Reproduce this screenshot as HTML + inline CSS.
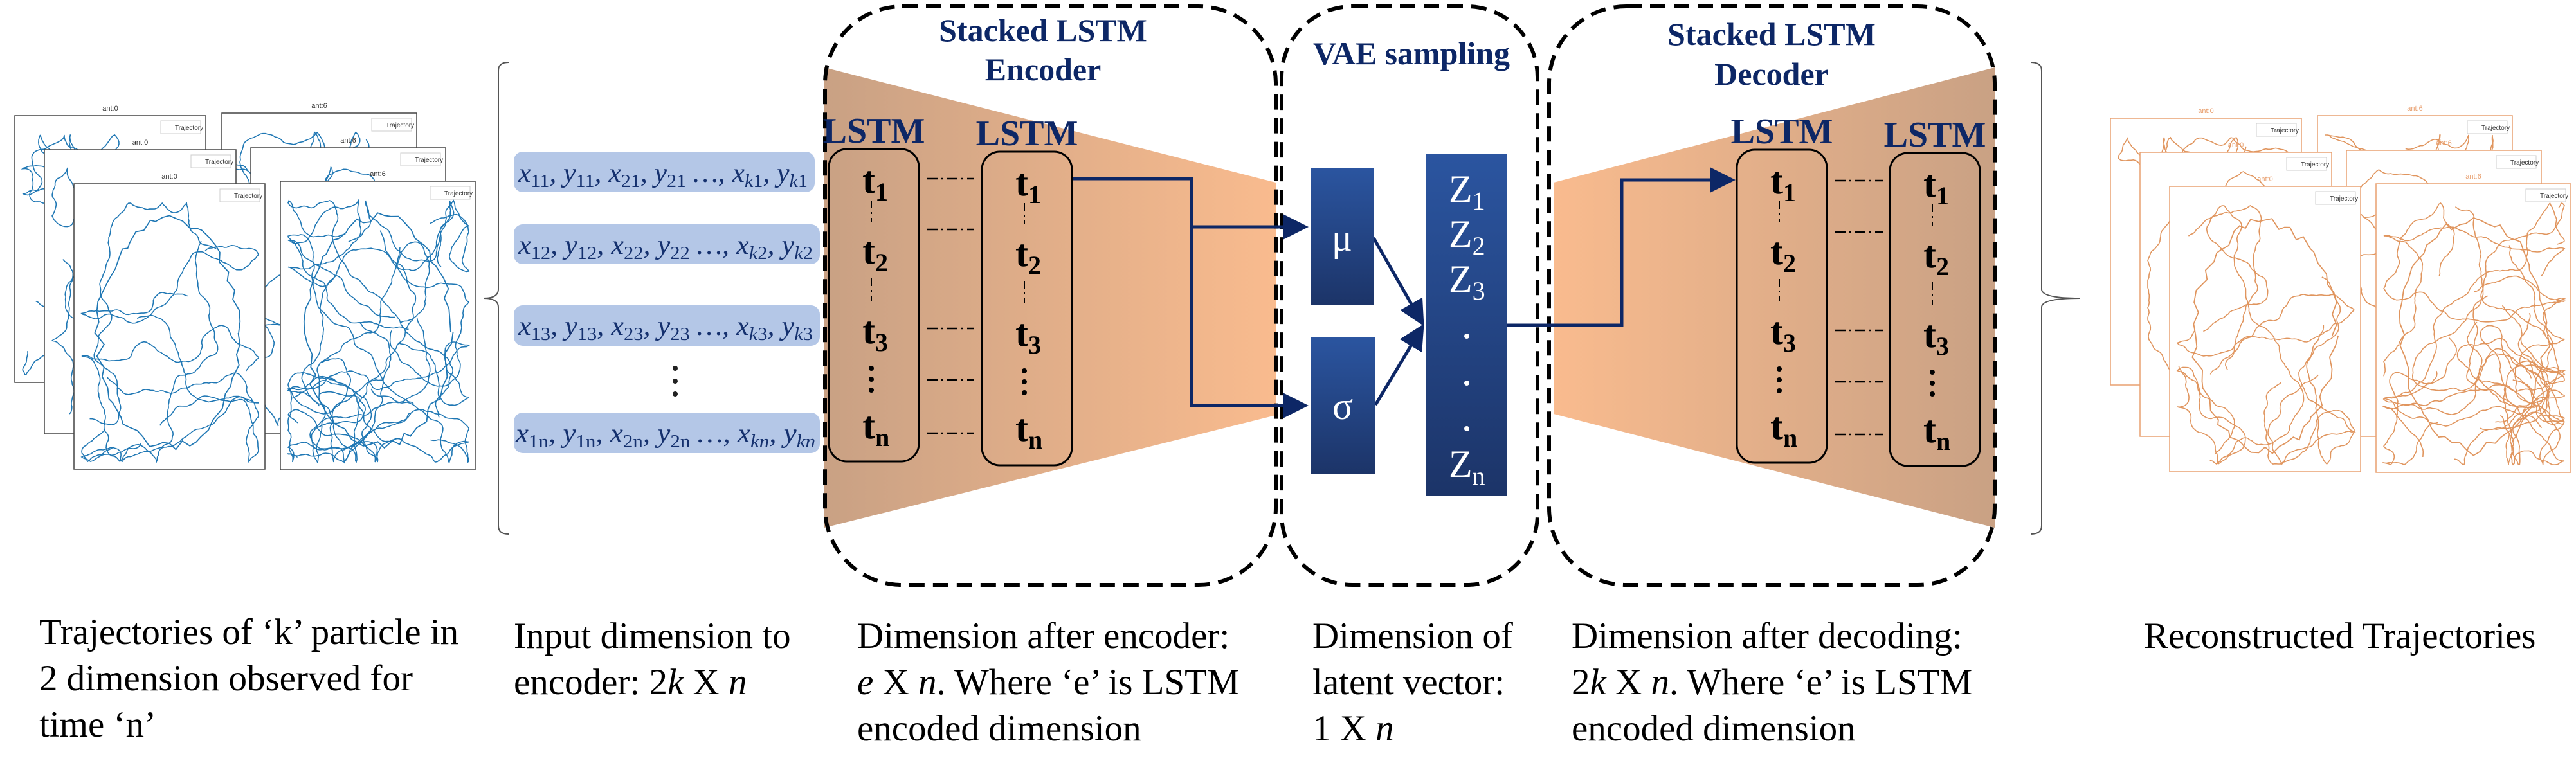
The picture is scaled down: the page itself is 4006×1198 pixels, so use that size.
<!DOCTYPE html>
<html><head><meta charset="utf-8"><style>
html,body{margin:0;padding:0;background:#fff}
svg{display:block}
.bt{font-family:"Liberation Serif",serif;font-size:57px;fill:#000}
.hd{font-family:"Liberation Serif",serif;font-weight:bold;fill:#0d2766}
.tt{font-family:"Liberation Serif",serif;font-weight:bold;font-size:60px;fill:#000}
.mx{font-family:"Liberation Serif",serif;font-style:italic;font-size:42px;fill:#14306e}
.zt{font-family:"Liberation Serif",serif;font-size:60px;fill:#fff}
</style></head><body>
<svg id="s" width="4006" height="1198" viewBox="0 0 4006 1198" xmlns="http://www.w3.org/2000/svg">
<defs>
<linearGradient id="ge" x1="0" x2="1" y1="0" y2="0"><stop offset="0" stop-color="#c9a184"/><stop offset="1" stop-color="#f9bb8e"/></linearGradient>
<linearGradient id="gd" x1="0" x2="1" y1="0" y2="0"><stop offset="0" stop-color="#f9bb8e"/><stop offset="1" stop-color="#c9a184"/></linearGradient>
<linearGradient id="gb" x1="0" x2="0" y1="0" y2="1"><stop offset="0" stop-color="#2b55a0"/><stop offset="1" stop-color="#1c3468"/></linearGradient>
<marker id="ar" markerWidth="8" markerHeight="8" refX="7" refY="4" orient="auto" markerUnits="strokeWidth"><path d="M0,0 L8,4 L0,8 z" fill="#0d2766"/></marker>
</defs>
<g id="plotsL"></g>
<g id="plotsR"></g>

<path d="M791,97 Q775,97 775,110 L775,450 Q775,464 752,464 Q775,464 775,478 L775,818 Q775,831 791,831" fill="none" stroke="#555" stroke-width="2"/>
<path d="M3158,97 Q3175,97 3175,110 L3175,450 Q3175,464 3234,464 Q3175,464 3175,478 L3175,818 Q3175,831 3158,831" fill="none" stroke="#555" stroke-width="2"/>

<rect x="799" y="236" width="468" height="63" rx="14" fill="#b4c7e7"/>
<rect x="799" y="349" width="476" height="62" rx="14" fill="#b4c7e7"/>
<rect x="799" y="475" width="476" height="63" rx="14" fill="#b4c7e7"/>
<rect x="799" y="642" width="476" height="63" rx="14" fill="#b4c7e7"/>
<g class="mx">
<text x="806" y="283" textLength="450" lengthAdjust="spacingAndGlyphs">x<tspan font-style="normal" font-size="29" dy="8">11</tspan><tspan dy="-8">, y</tspan><tspan font-style="normal" font-size="29" dy="8">11</tspan><tspan dy="-8">, x</tspan><tspan font-style="normal" font-size="29" dy="8">21</tspan><tspan dy="-8">, y</tspan><tspan font-style="normal" font-size="29" dy="8">21</tspan><tspan dy="-8"> …, x</tspan><tspan font-size="29" dy="8">k</tspan><tspan font-style="normal" font-size="29">1</tspan><tspan dy="-8">, y</tspan><tspan font-size="29" dy="8">k</tspan><tspan font-style="normal" font-size="29">1</tspan></text>
<text x="806" y="395" textLength="458" lengthAdjust="spacingAndGlyphs">x<tspan font-style="normal" font-size="29" dy="8">12</tspan><tspan dy="-8">, y</tspan><tspan font-style="normal" font-size="29" dy="8">12</tspan><tspan dy="-8">, x</tspan><tspan font-style="normal" font-size="29" dy="8">22</tspan><tspan dy="-8">, y</tspan><tspan font-style="normal" font-size="29" dy="8">22</tspan><tspan dy="-8"> …, x</tspan><tspan font-size="29" dy="8">k</tspan><tspan font-style="normal" font-size="29">2</tspan><tspan dy="-8">, y</tspan><tspan font-size="29" dy="8">k</tspan><tspan font-style="normal" font-size="29">2</tspan></text>
<text x="806" y="521" textLength="458" lengthAdjust="spacingAndGlyphs">x<tspan font-style="normal" font-size="29" dy="8">13</tspan><tspan dy="-8">, y</tspan><tspan font-style="normal" font-size="29" dy="8">13</tspan><tspan dy="-8">, x</tspan><tspan font-style="normal" font-size="29" dy="8">23</tspan><tspan dy="-8">, y</tspan><tspan font-style="normal" font-size="29" dy="8">23</tspan><tspan dy="-8"> …, x</tspan><tspan font-size="29" dy="8">k</tspan><tspan font-style="normal" font-size="29">3</tspan><tspan dy="-8">, y</tspan><tspan font-size="29" dy="8">k</tspan><tspan font-style="normal" font-size="29">3</tspan></text>
<text x="802" y="688" textLength="466" lengthAdjust="spacingAndGlyphs">x<tspan font-style="normal" font-size="29" dy="8">1n</tspan><tspan dy="-8">, y</tspan><tspan font-style="normal" font-size="29" dy="8">1n</tspan><tspan dy="-8">, x</tspan><tspan font-style="normal" font-size="29" dy="8">2n</tspan><tspan dy="-8">, y</tspan><tspan font-style="normal" font-size="29" dy="8">2n</tspan><tspan dy="-8"> …, x</tspan><tspan font-size="29" dy="8">kn</tspan><tspan dy="-8">, y</tspan><tspan font-size="29" dy="8">kn</tspan></text>
</g>
<circle cx="1050" cy="573" r="4" fill="#222"/><circle cx="1050" cy="593" r="4" fill="#222"/><circle cx="1050" cy="613" r="4" fill="#222"/>

<polygon points="1282,105 1984,284 1984,646 1282,821" fill="url(#ge)"/>
<polygon points="2416,284 3102,105 3102,821 2416,644" fill="url(#gd)"/>

<g fill="none" stroke="#000" stroke-width="6" stroke-dasharray="24 13">
<rect x="1283" y="10" width="701" height="900" rx="120"/>
<rect x="1993" y="10" width="398" height="900" rx="110"/>
<rect x="2409" y="10" width="693" height="900" rx="120"/>
</g>

<text class="hd" font-size="50" x="1622" y="64" text-anchor="middle">Stacked LSTM</text>
<text class="hd" font-size="50" x="1622" y="125" text-anchor="middle">Encoder</text>
<text class="hd" font-size="50" x="2195" y="100" text-anchor="middle">VAE sampling</text>
<text class="hd" font-size="50" x="2755" y="70" text-anchor="middle">Stacked LSTM</text>
<text class="hd" font-size="50" x="2755" y="132" text-anchor="middle">Decoder</text>

<g id="lstms"></g>

<g fill="none" stroke="#0d2766" stroke-width="5">
<polyline points="1668,278 1853,278 1853,631 2030,631" marker-end="url(#ar)"/>
<polyline points="1853,353 2030,353" marker-end="url(#ar)"/>
<polyline points="2136,370 2212,503" marker-end="url(#ar)"/>
<polyline points="2139,630 2212,508" marker-end="url(#ar)"/>
<polyline points="2344,506 2522,506 2522,280 2694,280" marker-end="url(#ar)"/>
</g>

<rect x="2038" y="261" width="98" height="214" fill="url(#gb)"/>
<rect x="2038" y="524" width="101" height="214" fill="url(#gb)"/>
<rect x="2217" y="240" width="127" height="532" fill="url(#gb)"/>
<text class="zt" x="2087" y="390" text-anchor="middle" font-size="54">μ</text>
<text class="zt" x="2088" y="652" text-anchor="middle" font-size="54">σ</text>
<g class="zt">
<text x="2253" y="314">Z<tspan font-size="40" dy="12">1</tspan></text>
<text x="2253" y="384">Z<tspan font-size="40" dy="12">2</tspan></text>
<text x="2253" y="454">Z<tspan font-size="40" dy="12">3</tspan></text>
<text x="2253" y="742">Z<tspan font-size="40" dy="12">n</tspan></text>
</g>
<circle cx="2281" cy="523" r="4" fill="#fff"/><circle cx="2281" cy="596" r="4" fill="#fff"/><circle cx="2281" cy="667" r="4" fill="#fff"/>

<g class="bt">
<text x="61" y="1002">Trajectories of ‘k’ particle in</text>
<text x="61" y="1074">2 dimension observed for</text>
<text x="61" y="1146">time ‘n’</text>
<text x="799" y="1008">Input dimension to</text>
<text x="799" y="1080">encoder: 2<tspan font-style="italic">k</tspan> X <tspan font-style="italic">n</tspan></text>
<text x="1333" y="1008">Dimension after encoder:</text>
<text x="1333" y="1080"><tspan font-style="italic">e</tspan> X <tspan font-style="italic">n</tspan>. Where ‘e’ is LSTM</text>
<text x="1333" y="1152">encoded dimension</text>
<text x="2041" y="1008">Dimension of</text>
<text x="2041" y="1080">latent vector:</text>
<text x="2041" y="1152">1 X <tspan font-style="italic">n</tspan></text>
<text x="2444" y="1008">Dimension after decoding:</text>
<text x="2444" y="1080">2<tspan font-style="italic">k</tspan> X <tspan font-style="italic">n</tspan>. Where ‘e’ is LSTM</text>
<text x="2444" y="1152">encoded dimension</text>
<text x="3334" y="1008">Reconstructed Trajectories</text>
</g>
</svg>
<script>
(function(){
var NS="http://www.w3.org/2000/svg";
function el(p,t,a,txt){var e=document.createElementNS(NS,t);for(var k in a)e.setAttribute(k,a[k]);if(txt!=null)e.textContent=txt;p.appendChild(e);return e;}
var L=document.getElementById('lstms');
var cols=[[1289,232,718],[1527,236,724],[2701,233,720],[2939,238,725]];
cols.forEach(function(c){
 var x=c[0],w=140,cx=x+w/2;
 el(L,'text',{x:cx,y:c[1]-10,'text-anchor':'middle','class':'hd','font-size':'56'},'LSTM');
 el(L,'rect',{x:x,y:c[1],width:w,height:c[2]-c[1],rx:28,fill:'none',stroke:'#000','stroke-width':3});
 var off=c[1]-232;
 var subs=['1','2','3','n'],yy=[300,410,534,682];
 for(var i=0;i<4;i++){var t=el(L,'text',{x:cx-18,y:yy[i]+off,'class':'tt'},'t');el(t,'tspan',{'font-size':'40',dy:'12'},subs[i]);}
 el(L,'line',{x1:cx-4,y1:312+off,x2:cx-4,y2:345+off,stroke:'#000','stroke-width':2,'stroke-dasharray':'12 6 3 6'});
 el(L,'line',{x1:cx-4,y1:433+off,x2:cx-4,y2:468+off,stroke:'#000','stroke-width':2,'stroke-dasharray':'12 6 3 6'});
 [573,590,607].forEach(function(y){el(L,'circle',{cx:cx-4,cy:y+off,r:4,fill:'#000'});});
});
[[1442,1515,[278,357,511,591,674]],[2854,2928,[281,361,514,594,676]]].forEach(function(g){
 g[2].forEach(function(y){el(L,'line',{x1:g[0],y1:y,x2:g[1],y2:y,stroke:'#000','stroke-width':2.5,'stroke-dasharray':'16 6 3 6'});});
});
var seed=7;function r(){seed=(seed*16807)%2147483647;return seed/2147483647;}
var frames=[[23,180,297,415],[345,176,303,420],[69,233,298,442],[390,230,303,445],[115,286,297,444],[436,282,303,449]];
function draw(g,dx,dy,col){
 frames.forEach(function(f,idx){
  var x=f[0]+dx,y=f[1]+dy,w=f[2],h=f[3];
  el(g,'rect',{x:x,y:y,width:w,height:h,fill:'#fff',stroke:col==='#1f77b4'?'#444':'#e8a070','stroke-width':1.5});
  el(g,'text',{x:x+w/2,y:y-8,'text-anchor':'middle','font-family':'Liberation Sans','font-size':11,fill:col==='#1f77b4'?'#333':'#e8a070'},idx%2?'ant:6':'ant:0');
  el(g,'rect',{x:x+w-70,y:y+8,width:62,height:20,fill:'#fff',stroke:'#ccc','stroke-width':1});
  el(g,'text',{x:x+w-48,y:y+22,'font-family':'Liberation Sans','font-size':10,fill:'#333'},'Trajectory');
  var n=idx>=4?(idx==5?14:6):4;
  for(var k=0;k<n;k++){
   var px=x+20+r()*(w-40),py=y+30+r()*(h-50),d='M'+px.toFixed(1)+','+py.toFixed(1);
   var ang=r()*6.28;
   for(var s=0;s<160;s++){
     ang+= (r()-0.5)*0.9;
     px+=Math.cos(ang)*4;py+=Math.sin(ang)*4;
     if(px<x+12){px=x+12;ang=Math.PI-ang;} if(px>x+w-10){px=x+w-10;ang=Math.PI-ang;}
     if(py<y+30){py=y+30;ang=-ang;} if(py>y+h-12){py=y+h-12;ang=-ang;}
     d+=' L'+px.toFixed(1)+','+py.toFixed(1);
   }
   el(g,'path',{d:d,fill:'none',stroke:col,'stroke-width':1.6});
  }
  if(idx>=4){
   var d2='';for(var a=0;a<=64;a++){var t=a/64*6.283;var rx=(w/2-40)*(1+(r()-0.5)*0.15),ry=(h/2-45)*(1+(r()-0.5)*0.1);
    d2+=(a?' L':'M')+(x+w/2+Math.cos(t)*rx).toFixed(1)+','+(y+h/2+10+Math.sin(t)*ry).toFixed(1);}
   el(g,'path',{d:d2,fill:'none',stroke:col,'stroke-width':1.8});
  }
 });
}
draw(document.getElementById('plotsL'),0,0,'#1f77b4');
draw(document.getElementById('plotsR'),3259,4,'#e0955e');
})();
</script>
</body></html>
